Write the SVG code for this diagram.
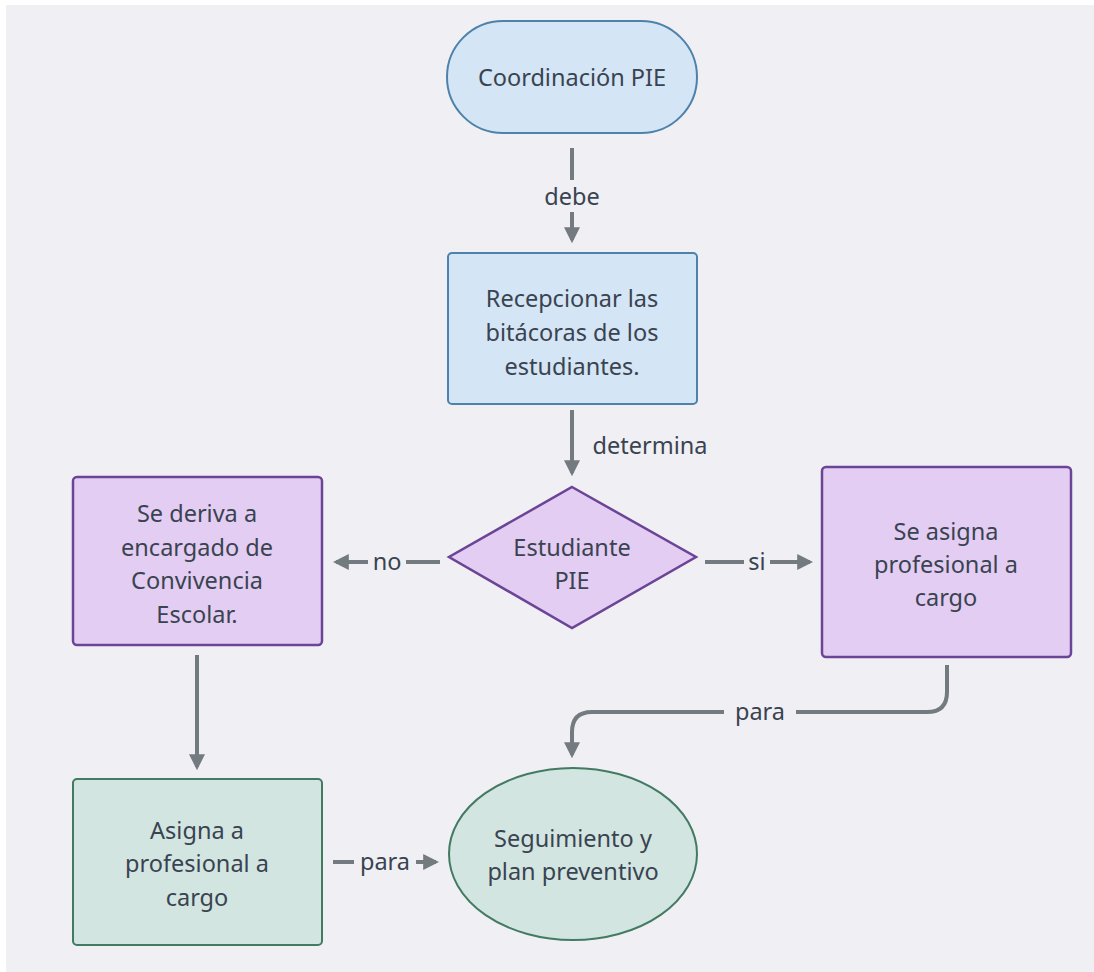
<svg xmlns="http://www.w3.org/2000/svg" width="1094" height="972" viewBox="0 0 1094 972">
<defs>
<marker id="ah" viewBox="0 0 10 10" refX="8" refY="5" markerWidth="4" markerHeight="4" orient="auto" markerUnits="strokeWidth">
<path d="M0,0 L10,5 L0,10 z" fill="#737b80"/>
</marker>
</defs>
<style>
text{font-family:"Noto Sans","DejaVu Sans",sans-serif;font-size:23.5px;fill:#3a4350;text-anchor:middle;dominant-baseline:central}
.c{fill:none;stroke:#737b80;stroke-width:4}
.lb{fill:#efeff4}
.blue{fill:#d4e5f5;stroke:#4e82aa;stroke-width:2}
.purple{fill:#e3cdf3;stroke:#6b4496;stroke-width:2.5}
.green{fill:#d2e5e1;stroke:#437a62;stroke-width:2}
</style>
<rect width="1094" height="972" fill="#ffffff"/>
<rect x="6" y="5" width="1088" height="967" fill="#efeff4"/>

<g id="connectors">
<line class="c" x1="572" y1="148" x2="572" y2="240" marker-end="url(#ah)"/>
<rect class="lb" x="536" y="180" width="72" height="32"/>
<text x="572" y="196">debe</text>

<line class="c" x1="572" y1="410" x2="572" y2="473" marker-end="url(#ah)"/>
<text x="650" y="445">determina</text>

<line class="c" x1="440" y1="562" x2="336" y2="562" marker-end="url(#ah)"/>
<rect class="lb" x="368" y="546" width="38" height="32"/>
<text x="387" y="561">no</text>

<line class="c" x1="705" y1="562" x2="810" y2="562" marker-end="url(#ah)"/>
<rect class="lb" x="744" y="546" width="26" height="32"/>
<text x="757" y="561">si</text>

<path class="c" d="M947,665 V692 Q947,712 927,712 H592 Q572,712 572,732 V755" marker-end="url(#ah)"/>
<rect class="lb" x="724" y="696" width="72" height="32"/>
<text x="760" y="711">para</text>

<line class="c" x1="197" y1="655" x2="197" y2="767" marker-end="url(#ah)"/>

<line class="c" x1="333" y1="862" x2="436" y2="862" marker-end="url(#ah)"/>
<rect class="lb" x="354" y="846" width="62" height="32"/>
<text x="385" y="861">para</text>
</g>

<g id="coordinacion">
<rect class="blue" x="447" y="21" width="250" height="112" rx="56" ry="56"/>
<text x="572" y="77">Coordinación PIE</text>
</g>

<g id="recepcionar">
<rect class="blue" x="448" y="253" width="249" height="151" rx="4"/>
<text x="572" y="298">Recepcionar las</text>
<text x="572" y="332">bitácoras de los</text>
<text x="572" y="366">estudiantes.</text>
</g>

<g id="estudiante">
<polygon class="purple" points="572,487 696,557 572,628 449,557"/>
<text x="572" y="547">Estudiante</text>
<text x="572" y="580">PIE</text>
</g>

<g id="deriva">
<rect class="purple" x="73" y="477" width="249" height="168" rx="4"/>
<text x="197" y="513">Se deriva a</text>
<text x="197" y="547">encargado de</text>
<text x="197" y="580">Convivencia</text>
<text x="197" y="614">Escolar.</text>
</g>

<g id="asigna-si">
<rect class="purple" x="822" y="467" width="249" height="190" rx="4"/>
<text x="946" y="531">Se asigna</text>
<text x="946" y="564">profesional a</text>
<text x="946" y="597">cargo</text>
</g>

<g id="asigna-no">
<rect class="green" x="73" y="779" width="249" height="166" rx="4"/>
<text x="197" y="830">Asigna a</text>
<text x="197" y="863">profesional a</text>
<text x="197" y="897">cargo</text>
</g>

<g id="seguimiento">
<ellipse class="green" cx="573" cy="854" rx="124" ry="86"/>
<text x="573" y="838">Seguimiento y</text>
<text x="573" y="871">plan preventivo</text>
</g>
</svg>
